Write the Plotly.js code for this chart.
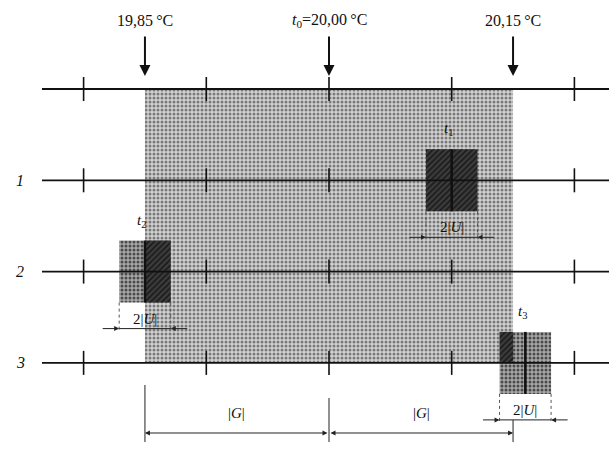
<!DOCTYPE html>
<html><head><meta charset="utf-8">
<script src="https://cdn.plot.ly/plotly-3.0.1.min.js"></script>
<style>html,body{margin:0;padding:0;background:#fff}#c{width:609px;height:462px}</style>
</head><body><div id="c"></div>
<script>
// ---- data ----
const tickTemps = [19.80, 19.90, 20.00, 20.10, 20.20];
const rowIndex = [1, 2, 3];
const rowLabels = ['1', '2', '3'];
const t0 = 20.00;
const G = 0.15;
const limitTemps = [19.85, 20.00, 20.15];
const limitLabels = ['19,85\u2009°C', '<i>t</i><sub>0</sub>=20,00\u2009°C', '20,15\u2009°C'];
const measTemps = [20.10, 19.85, 20.16];
const measLabels = ['<i>t</i><sub>1</sub>', '<i>t</i><sub>2</sub>', '<i>t</i><sub>3</sub>'];
const U = 0.021;

// ---- geometry helpers (pixel offsets -> data) ----
const W = 609, H = 462;
const XPX = 1227;            // px per °C
const XC = 329;              // px of t0
const xMin = t0 - XC / XPX, xMax = t0 + (W - XC) / XPX;
const Y0 = 89, ROW = 91.3;   // px of row 0, px per row
const yTop = -Y0 / ROW, yBot = (H - Y0) / ROW;
const dy = p => p / ROW;
const dx = p => p / XPX;
const yAt = p => (p - Y0) / ROW;

const FONT = 'Liberation Serif, Times New Roman, serif';
const shapes = [], ann = [], traces = [];
const allRows = [0].concat(rowIndex);
const lineStart = xMin + dx(42), lineEnd = xMax + 0.01;

function rectBar(x0, x1, y0, y1, pattern, color) {
  traces.push({type: 'bar', x: [(x0 + x1) / 2], width: [x1 - x0], base: [y0], y: [y1 - y0],
    marker: {color: color, line: {width: 0}, pattern: pattern}, hoverinfo: 'skip', showlegend: false});
}
// shaded tolerance region
const gx0 = t0 - G, gx1 = t0 + G;
const lastRow = rowIndex[rowIndex.length - 1];
rectBar(gx0, gx1, 0, lastRow,
  {shape: '.', fgcolor: '#7a7a7a', bgcolor: '#d2d2d2', size: 4, solidity: 0.45}, '#d2d2d2');

// measurement boxes
const bh = dy(31);
measTemps.forEach((t, i) => {
  const r = rowIndex[i];
  const bx0 = t - U, bx1 = t + U, by0 = r - bh, by1 = r + bh;
  rectBar(bx0, bx1, by0, by1, {shape: '.', fgcolor: '#4a4a4a', bgcolor: '#a8a8a8', size: 4, solidity: 0.45}, '#a8a8a8');
  const ix0 = Math.max(bx0, gx0), ix1 = Math.min(bx1, gx1);
  const iy0 = Math.max(by0, 0), iy1 = Math.min(by1, lastRow);
  if (ix1 > ix0 && iy1 > iy0) {
    rectBar(ix0, ix1, iy0, iy1, {shape: '/', fgcolor: '#1a1a1a', bgcolor: '#3c3c3c', size: 4, solidity: 0.4}, '#3c3c3c');
  }
  shapes.push({type: 'line', x0: t, x1: t, y0: by0, y1: by1, line: {color: '#111', width: 2.5}});
  ann.push({x: t - dx(3), y: by0 - dy(9), text: measLabels[i], showarrow: false, yanchor: 'bottom',
    font: {family: FONT, size: 15, color: '#111'}});
  // 2|U| dimension
  const ext = by1 + dy(30);
  [bx0, bx1].forEach(ex => shapes.push({type: 'line', x0: ex, x1: ex, y0: by1, y1: ext,
    line: {color: '#555', width: 1, dash: 'dot'}}));
  const ly = by1 + dy(26);
  ann.push({x: bx0, y: ly, ax: bx0 - dx(18), ay: ly, axref: 'x', ayref: 'y', text: '', showarrow: true,
    arrowhead: 2, arrowsize: 1, arrowwidth: 1, arrowcolor: '#222'});
  ann.push({x: bx1, y: ly, ax: bx1 + dx(18), ay: ly, axref: 'x', ayref: 'y', text: '', showarrow: true,
    arrowhead: 2, arrowsize: 1, arrowwidth: 1, arrowcolor: '#222'});
  shapes.push({type: 'line', x0: bx0, x1: bx1, y0: ly, y1: ly, line: {color: '#222', width: 1}});
  ann.push({x: t, y: by1 + dy(16), text: '2|<i>U</i>|', showarrow: false,
    font: {family: FONT, size: 15, color: '#111'}});
});

// horizontal scale lines and ticks
allRows.forEach(r => {
  shapes.push({type: 'line', x0: lineStart, x1: lineEnd, y0: r, y1: r, line: {color: '#111', width: 1.8}});
  tickTemps.forEach(tt => shapes.push({type: 'line', x0: tt, x1: tt, y0: r - dy(12), y1: r + dy(12),
    line: {color: '#111', width: 1.6}}));
});

// row labels
rowIndex.forEach((r, i) => ann.push({xref: 'paper', x: 14 / W, y: r, text: '<i>' + rowLabels[i] + '</i>',
  showarrow: false, font: {family: FONT, size: 16, color: '#111'}}));

// top limit labels with arrows
limitTemps.forEach((t, i) => {
  ann.push({x: t, y: yAt(20), text: limitLabels[i], showarrow: false,
    font: {family: FONT, size: 16, color: '#111'}});
  ann.push({x: t, y: yAt(76), ax: t, ay: yAt(35), axref: 'x', ayref: 'y', text: '', showarrow: true,
    arrowhead: 2, arrowsize: 1.1, arrowwidth: 2, arrowcolor: '#111'});
});

// |G| dimension
const gy = yAt(433);
const extTops = [yAt(385), yAt(398), yAt(420)];
[gx0, t0, gx1].forEach((ex, i) => shapes.push({type: 'line', x0: ex, x1: ex, y0: extTops[i], y1: yAt(442),
  line: {color: '#222', width: 1}}));
[[t0, gx0], [t0, gx1]].forEach(([a, b]) => {
  ann.push({x: b, y: gy, ax: a, ay: gy, axref: 'x', ayref: 'y', text: '', showarrow: true,
    arrowhead: 2, arrowsize: 1, arrowwidth: 1, arrowcolor: '#222', arrowside: 'end+start',
    startarrowhead: 2, startarrowsize: 1});
  ann.push({x: (a + b) / 2, y: yAt(413), text: '|<i>G</i>|', showarrow: false,
    font: {family: FONT, size: 15, color: '#111'}});
});

const layout = {
  width: W, height: H, margin: {l: 0, r: 0, t: 0, b: 0},
  paper_bgcolor: '#fff', plot_bgcolor: '#fff', barmode: 'overlay', showlegend: false,
  xaxis: {range: [xMin, xMax], visible: false, fixedrange: true},
  yaxis: {range: [yBot, yTop], visible: false, fixedrange: true},
  shapes: shapes, annotations: ann, hovermode: false
};
Plotly.newPlot('c', traces, layout, {staticPlot: true, displayModeBar: false});
</script></body></html>
